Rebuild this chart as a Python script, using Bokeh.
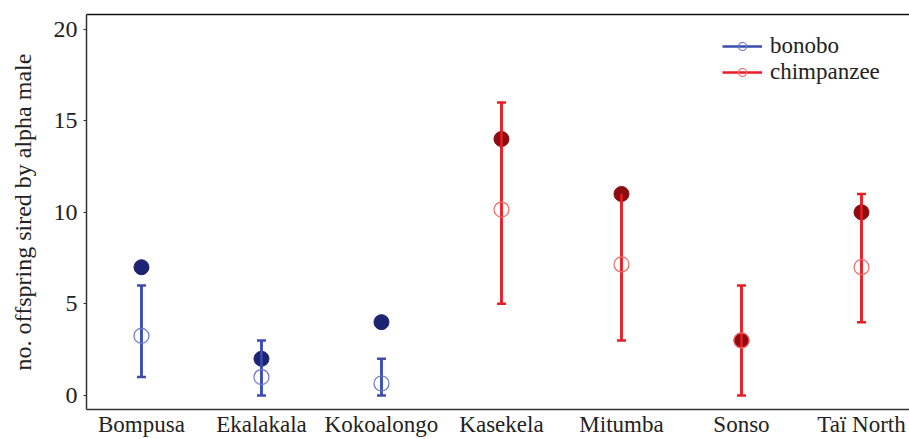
from bokeh.plotting import figure
from bokeh.models import (ColumnDataSource, Whisker, TeeHead, Legend, LegendItem,
                          FixedTicker, LinearAxis, Range1d)
from bokeh.embed import file_html
from bokeh.resources import INLINE

communities = ["Bompusa", "Ekalakala", "Kokoalongo", "Kasekela", "Mitumba", "Sonso", "Taï North"]
species = ["bonobo", "bonobo", "bonobo", "chimpanzee", "chimpanzee", "chimpanzee", "chimpanzee"]
observed = [7, 2, 4, 14, 11, 3, 10]
expected = [3.25, 1.0, 0.65, 10.15, 7.15, 3.0, 7.0]
lower = [1, 0, 0, 5, 3, 0, 4]
upper = [6, 3, 2, 16, 11, 6, 11]
y_ticks = [0, 5, 10, 15, 20]
species_order = ["bonobo", "chimpanzee"]

FONT = "Liberation Serif"
TXT = "#222222"
BAR = {"bonobo": "#3a4db0", "chimpanzee": "#ec1c24"}
FILL = {"bonobo": "#1d2573", "chimpanzee": "#8c0d10"}
OPEN = {"bonobo": "#6676c6", "chimpanzee": "#f26666"}

p = figure(width=909, height=439, output_backend="svg", toolbar_location=None,
           x_range=Range1d(-0.458, 6.4), y_range=Range1d(-0.77, 20.8),
           min_border_left=86, min_border_right=0, min_border_top=14, min_border_bottom=29)
p.outline_line_color = None
p.grid.visible = False

legend_items = []
for sp in species_order:
    ids = [i for i, s in enumerate(species) if s == sp]
    src = ColumnDataSource(dict(
        x=ids,
        obs=[observed[i] for i in ids],
        exp=[expected[i] for i in ids],
        lo=[lower[i] for i in ids],
        hi=[upper[i] for i in ids],
    ))
    p.scatter("x", "obs", source=src, size=15, fill_color=FILL[sp], line_color=FILL[sp], line_width=1)
    stem = p.segment("x", "lo", "x", "hi", source=src, line_color=BAR[sp], line_width=2.5)
    w = Whisker(source=src, base="x", lower="lo", upper="hi", line_color=BAR[sp], line_width=2.5,
                lower_head=TeeHead(size=9, line_color=BAR[sp], line_width=2.5),
                upper_head=TeeHead(size=9, line_color=BAR[sp], line_width=2.5))
    p.add_layout(w)
    op = p.scatter("x", "exp", source=src, size=15, fill_color=None, line_color=OPEN[sp], line_width=1.2)
    legend_items.append(LegendItem(label=sp, renderers=[stem, op]))

legend = Legend(items=legend_items, location=(636, 324), border_line_color=None,
                background_fill_alpha=0, label_text_font=FONT, label_text_font_size="23px",
                label_text_color=TXT, glyph_width=40, glyph_height=20, label_height=20,
                label_standoff=8, spacing=-1, margin=0, padding=0)
p.add_layout(legend)

# axes
xa = p.xaxis[0]
xa.ticker = FixedTicker(ticks=list(range(len(communities))))
xa.major_label_overrides = {i: c for i, c in enumerate(communities)}
xa.major_tick_line_color = None
xa.major_tick_out = 0
xa.major_tick_in = 0
xa.minor_tick_line_color = None
xa.axis_line_color = "#333333"
xa.axis_line_width = 1.5
xa.major_label_text_font = FONT
xa.major_label_text_font_size = "23px"
xa.major_label_text_color = TXT
xa.major_label_standoff = 2

ya = p.yaxis[0]
ya.ticker = FixedTicker(ticks=y_ticks)
ya.minor_tick_line_color = None
ya.major_tick_out = 3
ya.major_tick_in = 0
ya.major_tick_line_color = "#333333"
ya.axis_line_color = "#333333"
ya.axis_line_width = 1.5
ya.major_label_text_font = FONT
ya.major_label_text_font_size = "24px"
ya.major_label_text_color = TXT
ya.major_label_standoff = 6
ya.axis_label = "no. offspring sired by alpha male"
ya.axis_label_text_font = FONT
ya.axis_label_text_font_size = "24px"
ya.axis_label_text_font_style = "normal"
ya.axis_label_text_color = TXT
ya.axis_label_standoff = 15

top = LinearAxis(ticker=FixedTicker(ticks=[]), axis_line_color="#111111", axis_line_width=1.5,
                 major_tick_line_color=None, minor_tick_line_color=None,
                 major_tick_out=0, major_tick_in=0, major_label_standoff=0,
                 major_label_text_font_size="0px")
p.add_layout(top, "above")

open("out.html", "w").write(file_html(p, INLINE))
